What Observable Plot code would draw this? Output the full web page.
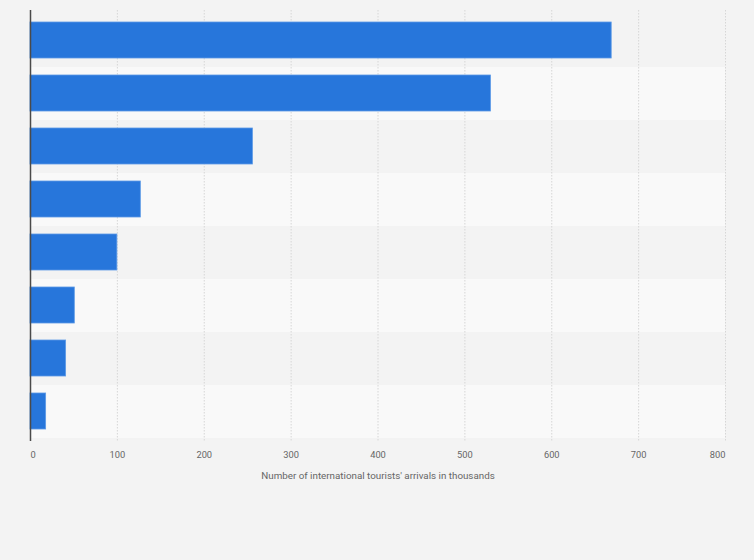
<!DOCTYPE html>
<html>
<head>
<meta charset="utf-8">
<script src="https://cdn.jsdelivr.net/npm/d3@7"></script>
<script src="https://cdn.jsdelivr.net/npm/@observablehq/plot@0.6"></script>
<style>
  html, body { margin: 0; padding: 0; background: #f3f3f3; }
  #chart { width: 754px; height: 560px; }
  svg { display: block; }
</style>
</head>
<body>
<div id="chart"></div>
<script>
const categories = ["Category 1", "Category 2", "Category 3", "Category 4", "Category 5", "Category 6", "Category 7", "Category 8"];
const values = [669, 530, 256, 127, 100, 51, 41, 18];
const xTicks = [0, 100, 200, 300, 400, 500, 600, 700, 800];
const xLabel = "Number of international tourists' arrivals in thousands";

const data = categories.map((c, i) => ({category: c, value: values[i], index: i}));
const stripes = data.filter(d => d.index % 2 === 1);

const chart = Plot.plot({
  width: 754,
  height: 500,
  marginLeft: 30,
  marginRight: 29,
  marginTop: 10,
  marginBottom: 59,
  style: {background: "#f3f3f3", fontFamily: "Roboto, 'Liberation Sans', sans-serif"},
  x: {domain: [0, 800], axis: null},
  y: {domain: categories, padding: 0, axis: null},
  marks: [
    Plot.barX(stripes, {y: "category", x1: 0, x2: 800, fill: "#f9f9f9"}),
    Plot.ruleX(xTicks.slice(1), {stroke: "#d6d6d6", strokeDasharray: "1.5,1.5", strokeWidth: 1}),
    Plot.barX(data, {y: "category", x: "value", fill: "#2776db", stroke: "#5d9ae6", strokeWidth: 0.8, insetTop: 8, insetBottom: 9}),
    Plot.ruleX([0], {stroke: "#4a4a4a", strokeWidth: 1.5}),
    Plot.axisX([xTicks[0]], {tickSize: 0, tickPadding: 10, textAnchor: "start", fontSize: 9.3, fill: "#666", label: null}),
    Plot.axisX(xTicks.slice(1, -1), {tickSize: 0, tickPadding: 10, fontSize: 9.3, fill: "#666", label: null}),
    Plot.axisX([xTicks[xTicks.length - 1]], {tickSize: 0, tickPadding: 10, textAnchor: "end", fontSize: 9.3, fill: "#666", label: null}),
    Plot.text([xLabel], {frameAnchor: "bottom", dy: 34, fontSize: 9.8, fill: "#666", lineAnchor: "middle"})
  ]
});
document.getElementById("chart").appendChild(chart);
</script>
</body>
</html>
